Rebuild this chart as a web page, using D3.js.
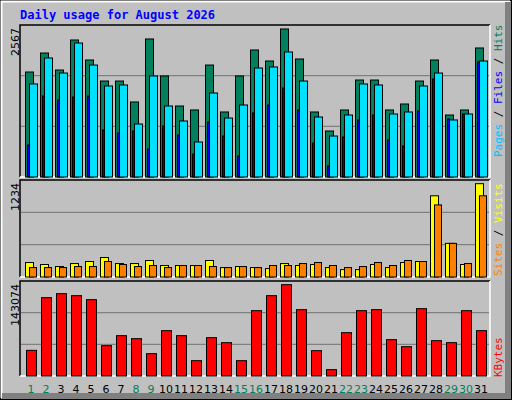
<!DOCTYPE html>
<html><head><meta charset="utf-8">
<script src="https://cdn.jsdelivr.net/npm/d3@7"></script>
<style>body{margin:0;background:#fff}svg{display:block}</style>
</head><body>
<script>
const days = d3.range(1, 32);
const weekend = [1,2,8,9,15,16,22,23,29,30];
const hits  = [1773,2094,1807,2314,1976,1621,1621,1267,2331,1706,1199,1132,1891,1098,1706,2145,1959,2500,1993,1098,777,1132,1638,1638,1132,1233,1621,1976,1047,1132,2179];
const files = [1571,2010,1756,2263,1891,1537,1554,895,1706,1199,946,591,1419,996,1216,1841,1858,2111,1621,1013,692,1047,1571,1554,1064,1098,1537,1756,963,1064,1959];
const pages = [540,1368,1300,1351,1368,794,743,777,473,861,709,388,929,692,355,1081,1216,1503,1132,574,186,676,963,1047,625,524,1115,1655,980,1064,1942];
const visits = [184,159,133,171,197,248,171,171,210,146,146,146,210,120,133,120,107,171,146,159,120,94,94,159,120,184,197,1033,428,159,1187];
const sites  = [120,120,120,133,133,197,159,133,146,120,146,146,133,120,133,120,146,146,171,184,146,120,133,184,146,210,197,917,428,171,1033];
const kbytes = [40526,123684,130000,126842,120526,47895,63684,58947,35263,71579,63684,24211,60526,52632,24211,103158,126842,144211,104737,40000,10000,68421,103158,104737,57368,46316,106316,55789,52632,103158,71579];
const maxLabels = ["2567","1234","143074"];

const W=512,H=400;
const svg=d3.select("body").append("svg").attr("width",W).attr("height",H);
svg.append("rect").attr("width",W).attr("height",H).attr("fill","#c0c0c0");
// bevel
svg.append("rect").attr("x",0.5).attr("y",0.5).attr("width",W-1).attr("height",H-1).attr("fill","none").attr("stroke","#000");
svg.append("path").attr("d",`M1.5,${H-2}V1.5H${W-2}`).attr("fill","none").attr("stroke","#fff").attr("stroke-width",2);
svg.append("path").attr("d",`M${W-4},2V${H-4}H2`).attr("fill","none").attr("stroke","#808080").attr("stroke-width",6);

svg.append("text").attr("x",20).attr("y",19).attr("fill","#0000ff").attr("font-family","DejaVu Sans Mono").attr("font-weight","bold").attr("font-size",12).text("Daily usage for August 2026");

const x=d3.scaleBand().domain(days).range([20,485]).paddingInner(0);
const L=20,R=490;
function panel(y0,y1,max,label){
  svg.append("path").attr("d",`M${L},${y1}V${y0}H${R}`).attr("fill","none").attr("stroke","#000").attr("stroke-width",1.5);
  svg.append("path").attr("d",`M${R},${y0}V${y1}H${L}`).attr("fill","none").attr("stroke","#fff").attr("stroke-width",1.5);
  const y=d3.scaleLinear().domain([0,max]).range([y1,y0]);
  [1,2].forEach(k=>svg.append("line").attr("x1",L+1).attr("x2",R-1).attr("y1",y0+(y1-y0)*k/3).attr("y2",y0+(y1-y0)*k/3).attr("stroke","#808080").attr("stroke-width",1.3));
  svg.append("text").attr("transform",`translate(19,${y0+3}) rotate(-90)`).attr("text-anchor","end").attr("font-family","DejaVu Sans").attr("font-size",11).attr("fill","#000").text(label);
  return y;
}
function bars(y,data,off,w,color){
  svg.append("g").selectAll("rect").data(data).join("rect")
   .attr("x",(d,i)=>x(days[i])+off+0.5).attr("width",w).attr("y",d=>y(d)).attr("height",d=>y(0)-y(d))
   .attr("fill",color).attr("stroke","#000").attr("stroke-width",1);
}
const y1=panel(25,177,2567,maxLabels[0]);
bars(y1,hits,5,8,"#00805c");
bars(y1,files,9,8,"#00e0ff");
bars(y1,pages,7,2,"#0000ff");
const y2=panel(180,277,1234,maxLabels[1]);
bars(y2,visits,5,8,"#ffff00");
bars(y2,sites,9,7,"#ff8000");
const y3=panel(281,376,150000,maxLabels[2]);
bars(y3,kbytes,6,10,"#ff0000");

svg.append("g").selectAll("text").data(days).join("text")
 .attr("x",d=>x(d)+11).attr("y",393).attr("text-anchor","middle").attr("font-family","DejaVu Sans").attr("font-size",11)
 .attr("fill",d=>weekend.includes(d)?"#00805c":"#000").text(d=>d);

function legend(yb,parts){
  const t=svg.append("text").attr("transform",`translate(502,${yb}) rotate(-90)`).attr("font-family","DejaVu Sans Mono").attr("font-size",11);
  parts.forEach(p=>t.append("tspan").attr("fill",p[1]).text(p[0]));
}
legend(157,[["Pages","#00c0ff"],[" / ","#000"],["Files","#0000ff"],[" / ","#000"],["Hits","#00805c"]]);
legend(276,[["Sites","#ff8000"],[" / ","#000"],["Visits","#ffff00"]]);
legend(377,[["KBytes","#ff0000"]]);
</script>
</body></html>
